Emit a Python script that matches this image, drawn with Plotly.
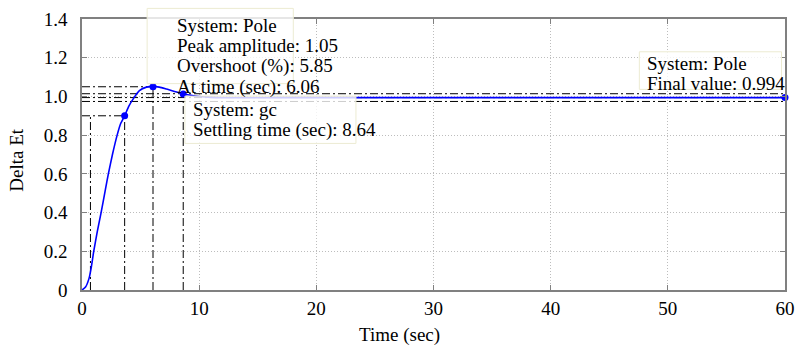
import plotly.graph_objects as go

# Step response
time = [0, 0.3, 0.6, 0.8, 1.0, 1.3, 1.63, 2.0, 2.25, 2.6, 3.0, 3.3, 3.64, 4.0, 4.4,
        4.9, 5.5, 6.06, 6.6, 7.2, 7.9, 8.64, 9.3, 10, 11, 12, 14, 17, 20, 30, 40, 50, 60]
delta_et = [0, 0.015, 0.06, 0.12, 0.2, 0.3, 0.4, 0.52, 0.6, 0.7, 0.8, 0.86, 0.9, 0.95, 0.99,
            1.03, 1.048, 1.052, 1.048, 1.038, 1.025, 1.014, 1.006, 1.0, 0.995, 0.993, 0.993,
            0.994, 0.994, 0.994, 0.994, 0.994, 0.994]

# Characteristics
rise_t10, rise_t90, rise_level = 0.72, 3.64, 0.9
peak_time, peak_amp = 6.06, 1.05
settle_time, settle_val = 8.64, 1.012
settle_hi, settle_lo = 1.014, 0.974
final_time, final_val = 60, 0.994

x_ticks = [0, 10, 20, 30, 40, 50, 60]
y_ticks = [0, 0.2, 0.4, 0.6, 0.8, 1.0, 1.2, 1.4]
y_tick_text = ["0", "0.2", "0.4", "0.6", "0.8", "1.0", "1.2", "1.4"]

peak_lines = ["System: Pole", "Peak amplitude: 1.05", "Overshoot (%): 5.85", "At time (sec): 6.06"]
settle_lines = ["System: gc", "Settling time (sec): 8.64"]
final_lines = ["System: Pole", "Final value: 0.994"]

FONT = "Liberation Serif"
FS = 19
DASH = "8px,3px,2px,3px"

fig = go.Figure()

def dline(xs, ys):
    fig.add_trace(go.Scatter(x=xs, y=ys, mode="lines", showlegend=False, hoverinfo="skip",
                             line=dict(color="black", width=1, dash=DASH)))

# rise time
dline([rise_t10, rise_t10], [0, rise_level])
dline([rise_t90, rise_t90], [0, rise_level])
dline([0, rise_t90], [rise_level, rise_level])
# peak
dline([peak_time, peak_time], [0, peak_amp])
dline([0, peak_time], [peak_amp, peak_amp])
# settling
dline([settle_time, settle_time], [0, settle_hi])
dline([0, final_time], [settle_hi, settle_hi])
dline([0, final_time], [settle_lo, settle_lo])
# final value
dline([0, final_time], [final_val, final_val])

fig.add_trace(go.Scatter(x=time, y=delta_et, mode="lines", showlegend=False,
                         line=dict(color="#0000ff", width=1.6, shape="spline", smoothing=0.6)))

fig.add_trace(go.Scatter(x=[rise_t90, peak_time, settle_time, final_time],
                         y=[rise_level, peak_amp, settle_val, final_val],
                         mode="markers", showlegend=False, cliponaxis=False,
                         marker=dict(color="#0000ff", size=7)))

# pixel -> paper helpers (plot area 82.5..789.5 x 9..290)
def pxx(px):
    return (px - 82.5) / 707.0

def pxy(py):
    return (290 - py) / 281.0

def box(x0, y0, x1, y1):
    fig.add_shape(type="rect", xref="paper", yref="paper",
                  x0=pxx(x0), x1=pxx(x1), y0=pxy(y1), y1=pxy(y0), layer="above",
                  fillcolor="rgba(255,255,255,0.8)", line=dict(color="#ecebd2", width=1))

def text_block(lines, px, first_py, step):
    for i, t in enumerate(lines):
        fig.add_annotation(text=t, xref="paper", yref="paper", x=pxx(px), y=pxy(first_py + i * step),
                           xanchor="left", yanchor="middle", align="left", showarrow=False,
                           font=dict(family=FONT, size=FS, color="black"))

box(148, -2, 295, 76)
box(186, 89, 358, 138)
box(643, 43, 786, 82)
text_block(peak_lines, 176, 15.5, 21.2)
text_block(settle_lines, 192, 103, 21.5)
text_block(final_lines, 649, 55, 21)

# axis titles
fig.add_annotation(text="Time (sec)", xref="paper", yref="paper", x=pxx(402), y=pxy(337),
                   xanchor="center", yanchor="middle", showarrow=False,
                   font=dict(family=FONT, size=FS, color="black"))
fig.add_annotation(text="Delta Et", xref="paper", yref="paper", x=pxx(17), y=pxy(155),
                   xanchor="center", yanchor="middle", showarrow=False, textangle=-90,
                   font=dict(family=FONT, size=FS, color="black"))

axis_common = dict(showline=True, linecolor="#808080", linewidth=1.5, mirror="ticks",
                   ticks="inside", ticklen=5, tickcolor="#808080",
                   showgrid=True, gridcolor="#bdbdbd", griddash="1px,2px", gridwidth=1,
                   zeroline=False,
                   tickfont=dict(family=FONT, size=FS, color="black"))

fig.update_xaxes(range=[0, 60], tickvals=x_ticks, ticklabelstandoff=0, **axis_common)
fig.update_yaxes(range=[0, 1.4], tickvals=y_ticks, ticktext=y_tick_text,
                 ticklabelstandoff=9, **axis_common)

fig.update_layout(width=804, height=352, margin=dict(l=82, r=14, t=9, b=62),
                  plot_bgcolor="white", paper_bgcolor="white",
                  font=dict(family=FONT, size=FS, color="black"))

fig.write_html("out.html")
